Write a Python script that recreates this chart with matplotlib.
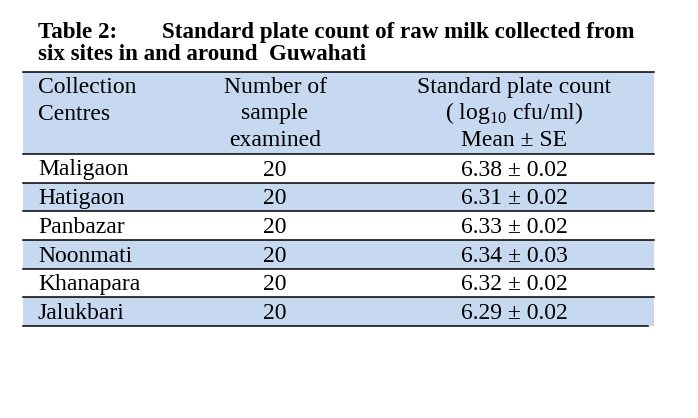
import matplotlib
matplotlib.use('Agg')
import matplotlib.pyplot as plt
from matplotlib.patches import Rectangle

plt.rcParams['font.family'] = ['Liberation Serif', 'DejaVu Serif']
plt.rcParams['mathtext.fontset'] = 'custom'
plt.rcParams['mathtext.rm'] = 'Liberation Serif'

# table data
centres = ['Maligaon', 'Hatigaon', 'Panbazar', 'Noonmati', 'Khanapara', 'Jalukbari']
n_samples = [20, 20, 20, 20, 20, 20]
means = [6.38, 6.31, 6.33, 6.34, 6.32, 6.29]
ses = [0.02, 0.02, 0.02, 0.03, 0.02, 0.02]

header_1 = ['Collection', 'Centres']
header_2 = ['Number of', 'sample', 'examined']
header_3 = ['Standard plate count', r'( log$_{\mathrm{10}}$ cfu/ml)', 'Mean ± SE']

blue = '#c6d9f1'
fs = 17
tfs = 16.6

fig = plt.figure(figsize=(6.98, 4.18), dpi=100)
ax = fig.add_axes([0, 0, 1, 1])
ax.set_xlim(0, 698)
ax.set_ylim(418, 0)
ax.axis('off')

# layout (pixels)
left, right = 23, 654
head_top, head_bot = 72, 154
row_h = 28.67
col1_x, col2_x, col3_x = 38, 275, 514

# title (justified first line)
ax.text(38, 38, 'Table 2:', fontsize=tfs, fontweight='bold', va='baseline', ha='left')
ax.text(634, 38, 'Standard plate count of raw milk collected from', fontsize=tfs,
        fontweight='bold', va='baseline', ha='right')
ax.text(38, 60, 'six sites in and around  Guwahati', fontsize=tfs, fontweight='bold',
        va='baseline', ha='left')

# header
ax.add_patch(Rectangle((left, head_top), right - left, head_bot - head_top,
                       facecolor=blue, edgecolor='none'))
ax.plot([left, right], [head_top, head_top], color='black', lw=1.1)
ax.plot([left, right], [head_bot, head_bot], color='black', lw=1.1)
for i, t in enumerate(header_1):
    ax.text(col1_x, 93 + i * 26.5, t, fontsize=fs, ha='left', va='baseline')
for i, t in enumerate(header_2):
    ax.text(col2_x, 93 + i * 26.5, t, fontsize=fs, ha='center', va='baseline')
for i, t in enumerate(header_3):
    ax.text(col3_x, 93 + i * 26.5, t, fontsize=fs, ha='center', va='baseline')

# body rows
for i, (c, n, m, s) in enumerate(zip(centres, n_samples, means, ses)):
    top = head_bot + i * row_h
    if i % 2 == 1:
        ax.add_patch(Rectangle((left, top), right - left, row_h,
                               facecolor=blue, edgecolor='none', zorder=0))
    ax.text(col1_x, top + 21.5, c, fontsize=fs, ha='left', va='baseline')
    ax.text(col2_x, top + 21.5, str(n), fontsize=fs, ha='center', va='baseline')
    ax.text(col3_x, top + 21.5, f'{m:.2f} ± {s:.2f}', fontsize=fs, ha='center', va='baseline')
    bot = top + row_h
    end = right if i < len(centres) - 1 else 648
    ax.plot([left, end], [bot, bot], color='black', lw=1.1)

fig.savefig('out.png', dpi=100)
